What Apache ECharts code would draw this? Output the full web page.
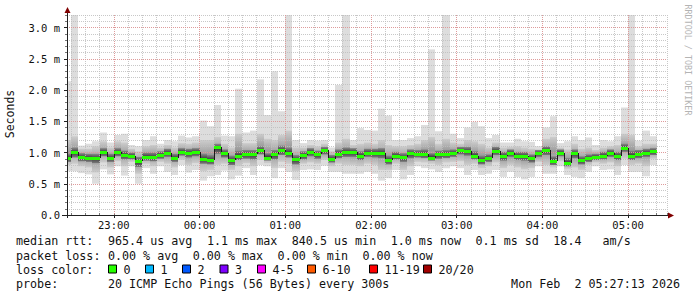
<!DOCTYPE html>
<html>
<head>
<meta charset="utf-8">
<script src="https://cdn.jsdelivr.net/npm/echarts@6/dist/echarts.min.js"></script>
<style>
html,body{margin:0;padding:0;background:#ffffff;}
#chart{width:697px;height:297px;}
</style>
</head>
<body>
<div id="chart"></div>
<script>
// ---------------- DATA ----------------
// 5-minute steps; bar i covers (firstBarEnd + (i-1)*5min, firstBarEnd + i*5min]
const stepMinutes = 5;
const firstBarEnd = [2026, 1, 1, 22, 30, 0];   // local time, Feb 1 22:30
const rangeStart  = [2026, 1, 1, 22, 27, 13];
const rangeEnd    = [2026, 1, 2, 5, 27, 13];

// median RTT per step (ms)
const medians = [
  0.92,1.01,0.93,0.92,0.91,1.01,0.92,1.01,0.96,0.95,
  0.86,0.93,0.93,0.96,1.00,0.92,1.01,1.00,1.01,0.90,
  0.88,1.09,0.99,0.88,0.95,0.97,0.97,1.04,0.91,0.97,
  1.04,0.99,0.89,0.96,1.01,0.97,1.04,0.90,0.98,1.01,
  1.01,0.95,1.00,1.00,1.00,0.88,0.95,0.93,0.99,0.98,
  0.98,0.92,0.97,0.97,0.99,1.04,1.03,0.95,0.88,0.91,
  1.03,0.95,1.00,0.95,0.95,0.91,0.99,1.04,0.86,1.00,
  0.84,0.99,0.88,0.91,0.93,0.95,1.00,0.95,1.08,0.95,
  0.98,1.00,1.02
];
// slowest ping per step (ms)
const maxs = [
  2.14,3.20,1.11,1.14,1.18,1.32,1.16,1.28,1.30,1.12,
  1.10,1.20,1.26,1.14,1.20,1.18,1.27,1.24,1.26,1.51,
  1.42,1.76,1.27,1.26,2.02,1.32,1.35,2.17,1.60,2.30,
  1.66,3.20,1.20,1.15,1.20,1.19,1.20,1.08,2.08,3.20,
  1.20,1.39,1.36,1.35,1.70,1.59,1.20,1.20,1.23,1.26,
  1.44,2.65,1.34,3.20,1.30,1.23,1.40,1.49,1.42,1.23,
  1.28,1.16,1.16,1.22,1.18,1.17,1.10,1.40,1.58,1.15,
  1.18,1.26,1.20,1.24,1.12,1.20,1.18,1.26,1.72,3.20,
  1.19,1.35,1.26
];
// fastest ping per step (ms)
const mins = [
  0.70,0.70,0.67,0.65,0.50,0.73,0.65,0.78,0.63,0.78,
  0.50,0.75,0.66,0.78,0.69,0.64,0.80,0.68,0.72,0.55,
  0.62,0.64,0.71,0.57,0.63,0.75,0.64,0.80,0.78,0.59,
  0.75,0.69,0.56,0.72,0.73,0.72,0.79,0.69,0.69,0.66,
  0.66,0.66,0.69,0.66,0.55,0.59,0.72,0.57,0.64,0.78,
  0.75,0.73,0.69,0.75,0.78,0.75,0.64,0.72,0.64,0.66,
  0.72,0.61,0.69,0.61,0.57,0.61,0.78,0.66,0.66,0.78,
  0.64,0.61,0.59,0.69,0.78,0.72,0.73,0.64,0.80,0.69,
  0.69,0.62,0.80
];
// middle smoke band (upper / lower), ms
const midHigh = [
  1.20,1.26,1.06,1.06,1.10,1.18,1.08,1.18,1.16,1.06,
  1.02,1.10,1.12,1.08,1.12,1.08,1.15,1.14,1.16,1.20,
  1.20,1.25,1.14,1.08,1.30,1.15,1.15,1.30,1.22,1.20,
  1.28,1.35,1.08,1.08,1.12,1.10,1.14,1.02,1.16,1.22,
  1.12,1.14,1.16,1.14,1.20,1.12,1.10,1.10,1.12,1.14,
  1.20,1.25,1.14,1.22,1.16,1.14,1.20,1.18,1.14,1.08,
  1.16,1.08,1.09,1.10,1.08,1.06,1.05,1.22,1.25,1.08,
  1.05,1.14,1.06,1.08,1.04,1.08,1.10,1.12,1.30,1.28,
  1.10,1.14,1.14
];
const midLow = [
  0.80,0.82,0.78,0.76,0.68,0.84,0.76,0.86,0.78,0.85,
  0.66,0.82,0.78,0.85,0.82,0.76,0.88,0.80,0.83,0.70,
  0.72,0.80,0.82,0.72,0.78,0.83,0.78,0.88,0.83,0.75,
  0.85,0.82,0.70,0.82,0.84,0.82,0.88,0.78,0.82,0.80,
  0.80,0.78,0.82,0.80,0.72,0.72,0.82,0.72,0.78,0.85,
  0.84,0.82,0.80,0.84,0.85,0.86,0.80,0.82,0.75,0.78,
  0.84,0.75,0.80,0.76,0.73,0.75,0.85,0.80,0.76,0.86,
  0.74,0.76,0.72,0.80,0.84,0.82,0.84,0.78,0.90,0.80,
  0.82,0.78,0.90
];
// inner (dense) smoke band (upper / lower), ms
const coreHigh = [
  0.98,1.08,0.99,0.98,0.98,1.07,0.98,1.07,1.03,1.00,
  0.93,1.00,1.00,1.02,1.06,0.98,1.07,1.06,1.07,0.98,
  0.96,1.14,1.05,0.95,1.03,1.04,1.04,1.10,0.99,1.04,
  1.11,1.08,0.96,1.02,1.07,1.03,1.09,0.96,1.05,1.08,
  1.07,1.02,1.06,1.06,1.07,0.95,1.01,0.99,1.05,1.04,
  1.05,0.99,1.03,1.04,1.05,1.09,1.09,1.02,0.95,0.97,
  1.09,1.01,1.05,1.01,1.01,0.97,1.04,1.10,0.94,1.05,
  0.91,1.05,0.94,0.97,0.98,1.01,1.05,1.01,1.14,1.03,
  1.04,1.06,1.07
];
const coreLow = [
  0.85,0.92,0.86,0.85,0.83,0.94,0.85,0.94,0.89,0.89,
  0.77,0.87,0.86,0.90,0.93,0.85,0.95,0.92,0.94,0.82,
  0.81,0.98,0.92,0.80,0.88,0.90,0.89,0.97,0.87,0.89,
  0.96,0.92,0.81,0.89,0.94,0.90,0.97,0.84,0.91,0.93,
  0.93,0.88,0.93,0.92,0.91,0.81,0.89,0.85,0.91,0.92,
  0.91,0.87,0.90,0.91,0.93,0.97,0.95,0.89,0.81,0.85,
  0.96,0.87,0.93,0.88,0.87,0.84,0.93,0.96,0.80,0.94,
  0.78,0.91,0.81,0.85,0.88,0.89,0.93,0.88,1.01,0.88,
  0.91,0.93,0.96
];

// y-axis ticks (ms)
const yMin = 0, yMax = 3.2, yMajor = 0.5, yMinor = 0.1;

// legend texts
const medianStats = ['965.4 us avg', '1.1 ms max', '840.5 us min', '1.0 ms now', '0.1 ms sd', '18.4   am/s'];
const lossStats   = ['0.00 % avg', '0.00 % max', '0.00 % min', '0.00 % now'];
const lossLabels  = ['0', '1', '2', '3', '4-5', '6-10', '11-19', '20/20'];
const lossColors  = ['#26ff00', '#00b8ff', '#0059ff', '#7e00ff', '#ff00ff', '#ff5a00', '#ff0000', '#a10000'];
const probeText   = '20 ICMP Echo Pings (56 Bytes) every 300s';
const stampText   = 'Mon Feb  2 05:27:13 2026';

// ---------------- BUILD ----------------
const mkDate = a => new Date(a[0], a[1], a[2], a[3], a[4], a[5]).getTime();
const STEP = stepMinutes * 60000;
const T0 = mkDate(firstBarEnd);
const START = mkDate(rangeStart);
const END = mkDate(rangeEnd);

const smokeData = medians.map((m, i) => {
  const tEnd = T0 + i * STEP;
  return [tEnd - STEP, tEnd, mins[i], maxs[i], midLow[i], midHigh[i], coreLow[i], coreHigh[i]];
});
const medianData = medians.map((m, i) => {
  const tEnd = T0 + i * STEP;
  return [tEnd - STEP, tEnd, m, i > 0 ? medians[i - 1] : m];
});

const MONO = '"DejaVu Sans Mono", "Liberation Mono", monospace';
const AXIS_COL = '#212121';
const GRID_COL = 'rgba(190,190,190,0.85)';
const MGRID_COL = 'rgba(230,140,140,0.75)';

function pad2(n) { return (n < 10 ? '0' : '') + n; }
function hhmm(v) { const d = new Date(v); return pad2(d.getHours()) + ':' + pad2(d.getMinutes()); }

const midGradient = new echarts.graphic.LinearGradient(0, 0, 0, 1, [
  { offset: 0, color: '#cdcdcd' },
  { offset: 0.5, color: '#9a9a9a' },
  { offset: 1, color: '#cdcdcd' }
]);
const coreGradient = new echarts.graphic.LinearGradient(0, 0, 0, 1, [
  { offset: 0, color: '#8a8a8a' },
  { offset: 0.5, color: '#3c3c3c' },
  { offset: 1, color: '#7a7a7a' }
]);

function clipRect(x0, y0, x1, y1, cs) {
  return echarts.graphic.clipRectByRect(
    { x: Math.round(x0), y: y0, width: Math.round(x1) - Math.round(x0), height: y1 - y0 },
    { x: cs.x, y: cs.y, width: cs.width, height: cs.height }
  );
}

function renderSmoke(params, api) {
  const cs = params.coordSys;
  const t0 = api.value(0), t1 = api.value(1);
  const bands = [
    [2, 3, '#dddddd'],
    [4, 5, midGradient],
    [6, 7, coreGradient]
  ];
  const children = [];
  bands.forEach(b => {
    const pTop = api.coord([t0, api.value(b[1])]);
    const pBot = api.coord([t1, api.value(b[0])]);
    const r = clipRect(pTop[0], pTop[1], pBot[0], pBot[1], cs);
    if (r) children.push({ type: 'rect', shape: r, style: { fill: b[2] } });
  });
  return { type: 'group', children: children };
}

function renderMedian(params, api) {
  const cs = params.coordSys;
  const t0 = api.value(0), t1 = api.value(1);
  const p0 = api.coord([t0, api.value(2)]);
  const p1 = api.coord([t1, api.value(2)]);
  const pPrev = api.coord([t0, api.value(3)]);
  const children = [];
  const xs = Math.round(p0[0]);
  const yCur = Math.round(p0[1]);
  const yPrev = Math.round(pPrev[1]);
  if (xs >= cs.x && yCur !== yPrev) {
    children.push({ type: 'line', shape: { x1: xs + 0.5, y1: yPrev, x2: xs + 0.5, y2: yCur },
      style: { stroke: '#1a1a1a', lineWidth: 1 } });
  }
  const r = clipRect(p0[0], yCur - 1, p1[0], yCur + 2, cs);
  if (r) children.push({ type: 'rect', shape: r, style: { fill: lossColors[0] } });
  return { type: 'group', children: children };
}

// legend graphics
const LEG_X = 16, CH = 7.07, LEG_FONT = '11.7px ' + MONO;
function legText(x, y, text, align) {
  return { type: 'text', x: x, y: y, z: 10,
    style: { text: text, font: LEG_FONT, fill: '#111', textAlign: align || 'left', textVerticalAlign: 'middle' } };
}
const legendGraphics = [
  legText(LEG_X, 241, 'median rtt:'),
  legText(LEG_X, 255.5, 'packet loss:'),
  legText(LEG_X, 269.5, 'loss color:'),
  legText(LEG_X, 284, 'probe:'),
  legText(680, 284, stampText, 'right')
];
medianStats.reduce((col, s) => { legendGraphics.push(legText(LEG_X + col * CH, 241, s)); return col + s.length + 2; }, 13);
lossStats.reduce((col, s) => { legendGraphics.push(legText(LEG_X + col * CH, 255.5, s)); return col + s.length + 2; }, 13);
legendGraphics.push(legText(LEG_X + 13 * CH, 284, probeText));
const boxX = [108.5, 145.5, 182.5, 220, 257.5, 307.5, 369.5, 423.5];
lossLabels.forEach((lab, i) => {
  legendGraphics.push({ type: 'rect', z: 10, shape: { x: boxX[i], y: 265, width: 8, height: 8 },
    style: { fill: lossColors[i], stroke: '#000', lineWidth: 1 } });
  legendGraphics.push(legText(boxX[i] + 15, 269.5, lab));
});

const decoGraphics = [
  { type: 'text', x: 10, y: 114, rotation: Math.PI / 2, z: 10,
    style: { text: 'Seconds', font: '11.5px ' + MONO, fill: '#111', textAlign: 'center', textVerticalAlign: 'middle' } },
  { type: 'text', x: 688, y: 60, rotation: -Math.PI / 2, z: 10,
    style: { text: 'RRDTOOL / TOBI OETIKER', font: '8.4px ' + MONO, fill: '#b4b4b4', textAlign: 'center', textVerticalAlign: 'middle' } },
  { type: 'line', z: 10, shape: { x1: 67.5, y1: 12, x2: 67.5, y2: 218 }, style: { stroke: AXIS_COL, lineWidth: 1 } },
  { type: 'line', z: 10, shape: { x1: 62, y1: 215.5, x2: 669, y2: 215.5 }, style: { stroke: AXIS_COL, lineWidth: 1 } },
  { type: 'polygon', z: 11, shape: { points: [[64.5, 13], [70.5, 13], [67.5, 7]] }, style: { fill: '#800000' } },
  { type: 'polygon', z: 11, shape: { points: [[668, 212.5], [668, 218.5], [674, 215.5]] }, style: { fill: '#800000' } }
];

const chart = echarts.init(document.getElementById('chart'), null, { renderer: 'svg', width: 697, height: 297 });
chart.setOption({
  animation: false,
  backgroundColor: '#ffffff',
  textStyle: { fontFamily: MONO },
  grid: { left: 67, top: 15, width: 600, height: 200, containLabel: false, outerBoundsMode: 'none' },
  xAxis: [
    {
      type: 'time', min: START, max: END, minInterval: 3600000, maxInterval: 3600000, z: 3,
      axisLine: { show: false },
      axisTick: { show: true, length: 3, lineStyle: { color: AXIS_COL } },
      axisLabel: { show: true, formatter: hhmm, fontFamily: MONO, fontSize: 10.5, color: '#111', margin: 4,
        showMinLabel: false, showMaxLabel: false, hideOverlap: false },
      splitLine: { show: true, showMinLine: false, showMaxLine: false, lineStyle: { color: MGRID_COL, width: 1, type: [1, 1] } }
    },
    {
      type: 'time', min: START, max: END, minInterval: 660000, maxInterval: 660000, z: 2,
      axisLine: { show: false },
      axisTick: { show: true, length: 2, lineStyle: { color: '#777' } },
      axisLabel: { show: false },
      splitLine: { show: true, lineStyle: { color: GRID_COL, width: 1, type: [1, 1] } }
    }
  ],
  yAxis: [
    {
      type: 'value', min: yMin, max: yMax, interval: yMajor, z: 3, position: 'left',
      axisLine: { show: false },
      axisTick: { show: true, length: 3, lineStyle: { color: AXIS_COL } },
      axisLabel: { formatter: v => (v === 0 ? '0.0' : v.toFixed(1) + ' m'), fontFamily: MONO, fontSize: 10.5,
        color: '#111', margin: 7, showMaxLabel: false },
      splitLine: { show: true, showMinLine: false, showMaxLine: false, lineStyle: { color: MGRID_COL, width: 1, type: [1, 1] } }
    },
    {
      type: 'value', min: yMin, max: yMax, interval: yMinor, z: 2, position: 'left', offset: 0,
      axisLine: { show: false },
      axisTick: { show: true, length: 2, lineStyle: { color: '#777' } },
      axisLabel: { show: false },
      splitLine: { show: true, showMinLine: false, lineStyle: { color: GRID_COL, width: 1, type: [1, 1] } }
    }
  ],
  series: [
    {
      type: 'custom', name: 'smoke', z: 1, xAxisIndex: 0, yAxisIndex: 0,
      renderItem: renderSmoke, data: smokeData,
      encode: { x: [0, 1], y: [2, 3] }, silent: true
    },
    {
      type: 'custom', name: 'median rtt', z: 5, xAxisIndex: 0, yAxisIndex: 0,
      renderItem: renderMedian, data: medianData,
      encode: { x: [0, 1], y: [2] }, silent: true
    }
  ],
  graphic: decoGraphics.concat(legendGraphics)
});
</script>
</body>
</html>
